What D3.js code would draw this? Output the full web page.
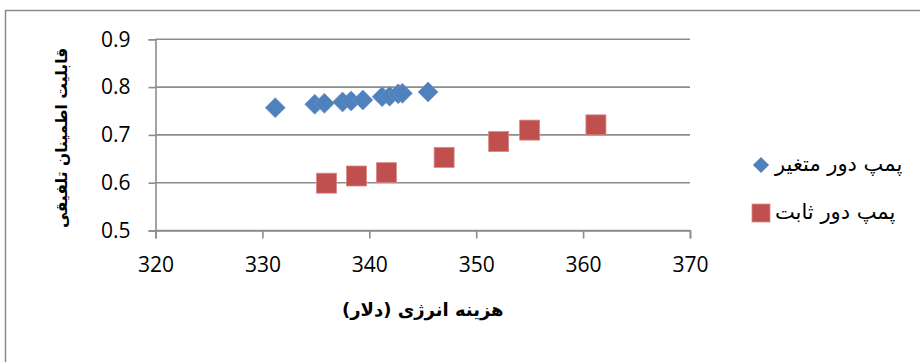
<!DOCTYPE html>
<html><head><meta charset="utf-8">
<script src="https://cdn.jsdelivr.net/npm/d3@7"></script>
<style>
html,body{margin:0;padding:0;background:#fff;}
svg{display:block;}
</style>
</head><body>
<svg id="chart" width="920" height="362"></svg>
<script>
// Data
const variableCost = [331.2, 334.9, 335.8, 337.5, 338.3, 339.4, 341.2, 341.9, 342.7, 343.1, 345.5];
const variableRel  = [0.757, 0.764, 0.766, 0.769, 0.771, 0.773, 0.780, 0.781, 0.786, 0.787, 0.790];
const fixedCost = [336.0, 338.8, 341.6, 347.0, 352.1, 355.0, 361.2];
const fixedRel  = [0.599, 0.614, 0.621, 0.653, 0.686, 0.710, 0.721];
const xTicks = [320, 330, 340, 350, 360, 370];
const yTicks = [0.5, 0.6, 0.7, 0.8, 0.9];
const seriesNames = ["پمپ دور متغیر", "پمپ دور ثابت"];
const xTitle = "هزینه انرژی (دلار)";
const yTitle = "قابلیت اطمینان تلفیقی";

const svg = d3.select("#chart");
const gridColor = "#8c8c8c";
const blue = "#4F81BD", red = "#C0504D";
const numFont = "'Open Sans', 'Noto Sans', sans-serif";
const faFont = "'DejaVu Sans', sans-serif";

// outer frame
svg.append("path").attr("d", "M5.5,362 V10.5 H920").attr("fill", "none")
  .attr("stroke", "#8a8a8a").attr("stroke-width", 1.5);

const x = d3.scaleLinear().domain([320, 370]).range([155.5, 690]);
const y = d3.scaleLinear().domain([0.5, 0.9]).range([230.5, 39.3]);

// gridlines
svg.append("g").selectAll("line").data(yTicks).join("line")
  .attr("x1", x(320)).attr("x2", x(370))
  .attr("y1", d => y(d)).attr("y2", d => y(d))
  .attr("stroke", gridColor).attr("stroke-width", 1.6);

// y axis
const yAxis = svg.append("g").attr("transform", `translate(${x(320)},0)`)
  .call(d3.axisLeft(y).tickValues(yTicks).tickFormat(d3.format(".1f")).tickSize(7).tickPadding(18));
yAxis.select(".domain").attr("stroke", gridColor).attr("stroke-width", 1.6);
yAxis.selectAll(".tick line").attr("stroke", gridColor).attr("stroke-width", 1.6);
yAxis.selectAll("text").attr("font-family", numFont).attr("font-size", 21).attr("fill", "#000");

// x axis
const xAxis = svg.append("g").attr("transform", `translate(0,${y(0.5)})`)
  .call(d3.axisBottom(x).tickValues(xTicks).tickFormat(d3.format("d")).tickSize(8).tickPadding(19));
xAxis.select(".domain").attr("stroke", gridColor).attr("stroke-width", 1.6);
xAxis.selectAll(".tick line").attr("stroke", gridColor).attr("stroke-width", 1.6);
xAxis.selectAll("text").attr("font-family", numFont).attr("font-size", 21).attr("fill", "#000");

// series
const diamond = d3.symbol().type(d3.symbolSquare).size(200)();
svg.append("g").selectAll("path").data(variableCost.map((c, i) => [c, variableRel[i]])).join("path")
  .attr("d", diamond)
  .attr("transform", d => `translate(${x(d[0])},${y(d[1])}) rotate(45)`)
  .attr("fill", blue).attr("stroke", "#6a95cc").attr("stroke-width", 0.6);

svg.append("g").selectAll("rect").data(fixedCost.map((c, i) => [c, fixedRel[i]])).join("rect")
  .attr("x", d => x(d[0]) - 10).attr("y", d => y(d[1]) - 10)
  .attr("width", 20).attr("height", 20)
  .attr("fill", red).attr("stroke", "#d98886").attr("stroke-width", 0.8);

// axis titles
svg.append("text").attr("x", x(345)).attr("y", 316).attr("text-anchor", "middle")
  .attr("direction", "rtl").attr("font-family", faFont).attr("font-weight", "bold")
  .attr("font-size", 18).text(xTitle);

svg.append("text").attr("transform", `translate(62,${y(0.7) + 3}) rotate(-90)`)
  .attr("text-anchor", "middle").attr("dominant-baseline", "middle")
  .attr("direction", "rtl").attr("font-family", faFont).attr("font-weight", "bold")
  .attr("font-size", 15.5).text(yTitle);

// legend
const lg = svg.append("g");
lg.append("path").attr("d", d3.symbol().type(d3.symbolSquare).size(130)())
  .attr("transform", `translate(761,165) rotate(45)`).attr("fill", blue);
lg.append("rect").attr("x", 752).attr("y", 204).attr("width", 18).attr("height", 18)
  .attr("fill", red).attr("stroke", "#d98886").attr("stroke-width", 0.8);
[165, 213].forEach((cy, i) => {
  lg.append("text").attr("x", 775).attr("y", cy).attr("dominant-baseline", "middle")
    .attr("text-anchor", "start").attr("font-family", faFont).attr("font-size", 21)
    .attr("direction", "ltr").attr("unicode-bidi", "plaintext").text(seriesNames[i]);
});
</script>
</body></html>
